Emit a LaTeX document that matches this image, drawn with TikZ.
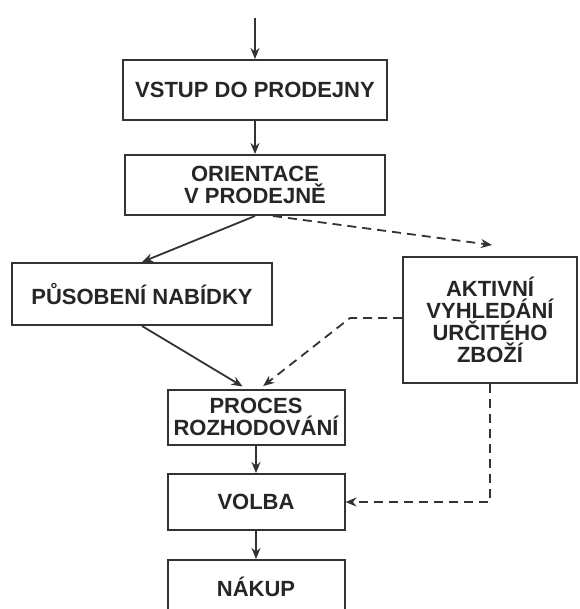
\documentclass[tikz,border=0pt]{standalone}
\usepackage{fontspec}
\setmainfont{Liberation Sans}
\usetikzlibrary{arrows.meta}
\begin{document}
\begin{tikzpicture}[x=1pt,y=-1pt,
  box/.style={draw=black!80, line width=2pt, rectangle, inner sep=0pt, align=center,
    font=\fontsize{22}{22}\selectfont\bfseries, text=black!85},
  arr/.style={draw=black!80, line width=1.8pt, -{Stealth[length=11pt,width=9pt]}},
  darr/.style={arr, dash pattern=on 9pt off 6pt}]
\useasboundingbox (0,0) rectangle (579,609);
\node[box, minimum width=264pt, minimum height=60pt] (vstup) at (255,90) {VSTUP DO PRODEJNY};
\node[box, minimum width=260pt, minimum height=60pt] (orient) at (255,185) {ORIENTACE\\V PRODEJNĚ};
\node[box, minimum width=260pt, minimum height=62pt] (pusob) at (142,294) {PŮSOBENÍ NABÍDKY};
\node[box, minimum width=174pt, minimum height=126pt] (aktiv) at (490,320) {AKTIVNÍ\\VYHLEDÁNÍ\\URČITÉHO\\ZBOŽÍ};
\node[box, minimum width=177pt, minimum height=55pt] (proces) at (256,417) {PROCES\\ROZHODOVÁNÍ};
\node[box, minimum width=177pt, minimum height=56pt] (volba) at (256,502) {VOLBA};
\node[box, minimum width=177pt, minimum height=54pt] (nakup) at (256,587) {NÁKUP};
\coordinate (start) at (255,18);
\coordinate (dashend) at (492,245);
\coordinate (bend) at (350,318);
\draw[arr] (start) -- (vstup.north);
\draw[arr] (vstup.south) -- (orient.north);
\draw[arr] (orient.south) -- (pusob.north);
\draw[darr] ([xshift=18pt]orient.south) -- (dashend);
\draw[arr, shorten >=4pt] (pusob.south) -- ([xshift=-10pt]proces.north);
\draw[darr, shorten >=4pt] (aktiv.west |- bend) -- (bend) -- ([xshift=4pt]proces.north);
\draw[darr] (aktiv.south) |- (volba.east);
\draw[arr] (proces.south) -- (volba.north);
\draw[arr] (volba.south) -- (nakup.north);
\end{tikzpicture}
\end{document}
